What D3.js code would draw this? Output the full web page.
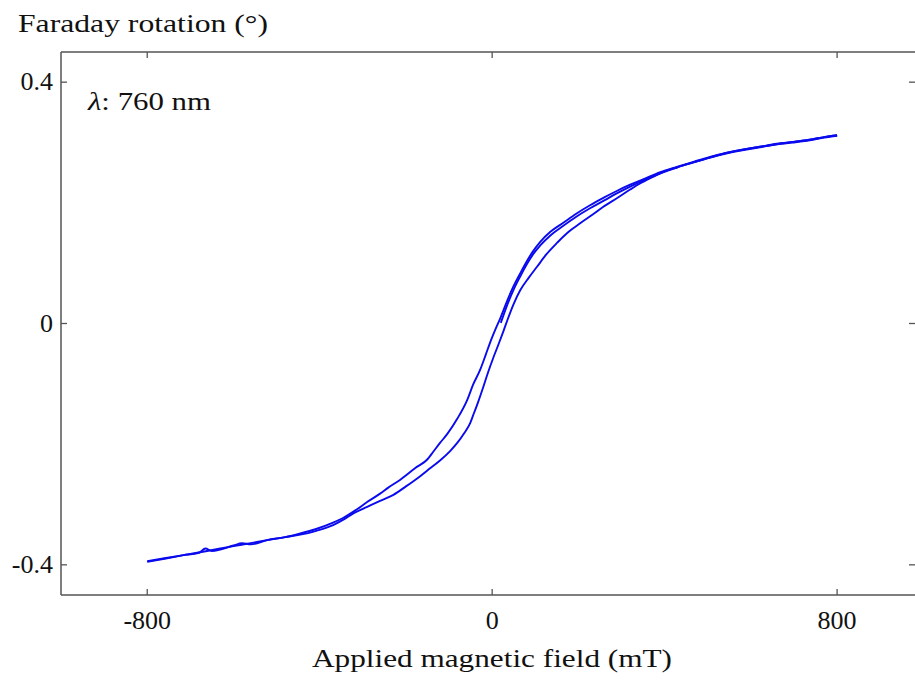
<!DOCTYPE html>
<html>
<head>
<meta charset="utf-8">
<script src="https://cdn.jsdelivr.net/npm/d3@7"></script>
<style>
  body { margin: 0; background: #fff; }
  svg { display: block; }
  text { font-family: "Liberation Serif", "Times New Roman", Times, serif; fill: #111; }
</style>
</head>
<body>
<svg id="chart" width="915" height="680"></svg>
<script>
// field sweep from +800 down to -800 (upper / left branch), listed by field
const fieldDown = [-800, -760, -716, -680, -665, -650, -600, -580, -560, -522, -480, -445, -410, -369, -345,
  -320, -290, -260, -241, -213, -179, -150, -137, -121, -104, -81, -58, -44, -28, -15, -5, 8, 19, 35, 49,
  65, 81, 95, 111, 135, 165, 195, 227, 260, 290, 320, 350, 390, 430, 467, 505, 545, 580, 621, 660, 698,
  740, 770, 800];
const rotDown = [-0.394, -0.389, -0.384, -0.380, -0.373, -0.377, -0.368, -0.364, -0.366, -0.359, -0.354,
  -0.348, -0.341, -0.330, -0.322, -0.311, -0.296, -0.282, -0.272, -0.259, -0.240, -0.225, -0.213, -0.198,
  -0.183, -0.158, -0.127, -0.101, -0.077, -0.052, -0.032, -0.009, 0.009, 0.038, 0.061, 0.083, 0.104, 0.120,
  0.135, 0.152, 0.167, 0.182, 0.196, 0.209, 0.220, 0.230, 0.239, 0.251, 0.260, 0.268, 0.276, 0.283, 0.288,
  0.293, 0.298, 0.301, 0.305, 0.309, 0.312];

// field sweep from -800 up to +800 (lower / right branch)
const fieldUp = [-800, -760, -716, -661, -600, -560, -522, -480, -445, -410, -369, -345, -320, -290, -260,
  -229, -200, -167, -144, -121, -97, -81, -65, -51, -44, -32, -21, -10, 2, 15, 26, 35, 49, 65, 85, 104,
  125, 151, 174, 204, 234, 257, 290, 320, 343, 370, 390, 430, 467, 505, 545, 580, 621, 660, 698, 740, 770, 800];
const rotUp = [-0.395, -0.390, -0.384, -0.377, -0.369, -0.364, -0.359, -0.354, -0.350, -0.344, -0.334,
  -0.325, -0.314, -0.304, -0.294, -0.284, -0.270, -0.253, -0.240, -0.227, -0.211, -0.198, -0.182, -0.165,
  -0.152, -0.129, -0.106, -0.082, -0.058, -0.034, -0.013, 0.005, 0.031, 0.055, 0.076, 0.094, 0.114, 0.134,
  0.150, 0.166, 0.181, 0.193, 0.208, 0.222, 0.232, 0.242, 0.249, 0.259, 0.267, 0.275, 0.282, 0.287, 0.292,
  0.297, 0.300, 0.304, 0.308, 0.311];

// initial magnetisation trace, from ~0 up to +800
const fieldInit = [20, 35, 49, 65, 81, 95, 111, 135, 165, 195, 227, 260, 290, 320, 350, 390, 430, 467, 505,
  545, 580, 621, 660, 698, 740, 770, 800];
const rotInit = [0.001, 0.031, 0.055, 0.078, 0.099, 0.115, 0.129, 0.146, 0.162, 0.177, 0.191, 0.204, 0.216,
  0.227, 0.237, 0.249, 0.259, 0.267, 0.275, 0.283, 0.288, 0.293, 0.297, 0.301, 0.305, 0.309, 0.312];

const xTicks = [-800, 0, 800];
const yTicks = [-0.4, 0, 0.4];

const svg = d3.select("#chart");
const plotL = 61, plotR = 916, plotT = 52, plotB = 595;

const x = d3.scaleLinear().domain([-1000, 983]).range([plotL, plotR]);
const y = d3.scaleLinear().domain([-0.45, 0.45]).range([plotB, plotT]);

const axisColor = "#555";
const tickLen = 6;
const serif = "'Liberation Serif', 'Times New Roman', Times, serif";

// frame
svg.append("line").attr("x1", plotL).attr("x2", 915).attr("y1", plotT).attr("y2", plotT)
  .attr("stroke", axisColor).attr("stroke-width", 1.5);
svg.append("line").attr("x1", plotL).attr("x2", 915).attr("y1", plotB).attr("y2", plotB)
  .attr("stroke", axisColor).attr("stroke-width", 1.5);
svg.append("line").attr("x1", plotL).attr("x2", plotL).attr("y1", plotT).attr("y2", plotB)
  .attr("stroke", axisColor).attr("stroke-width", 1.5);

// ticks on all four sides, pointing inward
const ticksG = svg.append("g").attr("stroke", axisColor).attr("stroke-width", 1.3);
xTicks.forEach(t => {
  ticksG.append("line").attr("x1", x(t)).attr("x2", x(t)).attr("y1", plotB).attr("y2", plotB - tickLen);
  ticksG.append("line").attr("x1", x(t)).attr("x2", x(t)).attr("y1", plotT).attr("y2", plotT + tickLen);
});
yTicks.forEach(t => {
  ticksG.append("line").attr("x1", plotL).attr("x2", plotL + tickLen).attr("y1", y(t)).attr("y2", y(t));
  ticksG.append("line").attr("x1", 915).attr("x2", 915 - tickLen).attr("y1", y(t)).attr("y2", y(t));
});

// tick labels
svg.selectAll("text.xt").data(xTicks).enter().append("text")
  .attr("class", "xt")
  .attr("x", d => x(d)).attr("y", 629)
  .attr("text-anchor", "middle")
  .style("font-family", serif)
  .style("font-size", "26px")
  .text(d => d);

svg.selectAll("text.yt").data(yTicks).enter().append("text")
  .attr("class", "yt")
  .attr("x", 53).attr("y", d => y(d) + 8)
  .attr("text-anchor", "end")
  .style("font-family", serif)
  .style("font-size", "26px")
  .text(d => d);

// axis titles
svg.append("text")
  .attr("x", 18).attr("y", 32)
  .style("font-family", serif)
  .style("font-size", "26px")
  .attr("textLength", 250).attr("lengthAdjust", "spacingAndGlyphs")
  .text("Faraday rotation (°)");

svg.append("text")
  .attr("x", 312).attr("y", 667)
  .style("font-family", serif)
  .style("font-size", "26px")
  .attr("textLength", 360).attr("lengthAdjust", "spacingAndGlyphs")
  .text("Applied magnetic field (mT)");

// wavelength note
const note = svg.append("text").attr("x", 88).attr("y", 110)
  .style("font-family", serif).style("font-size", "26px")
  .attr("textLength", 123).attr("lengthAdjust", "spacingAndGlyphs");
note.append("tspan").style("font-style", "italic").text("λ");
note.append("tspan").text(": 760 nm");

// traces
const line = d3.line()
  .x(d => x(d[0]))
  .y(d => y(d[1]))
  .curve(d3.curveMonotoneX);

const traces = [
  d3.zip(fieldDown, rotDown),
  d3.zip(fieldUp, rotUp),
  d3.zip(fieldInit, rotInit)
];

svg.append("g").selectAll("path")
  .data(traces)
  .enter().append("path")
  .attr("d", line)
  .attr("fill", "none")
  .attr("stroke", "#0a0aee")
  .attr("stroke-width", 1.9)
  .attr("stroke-linejoin", "round");
</script>
</body>
</html>
